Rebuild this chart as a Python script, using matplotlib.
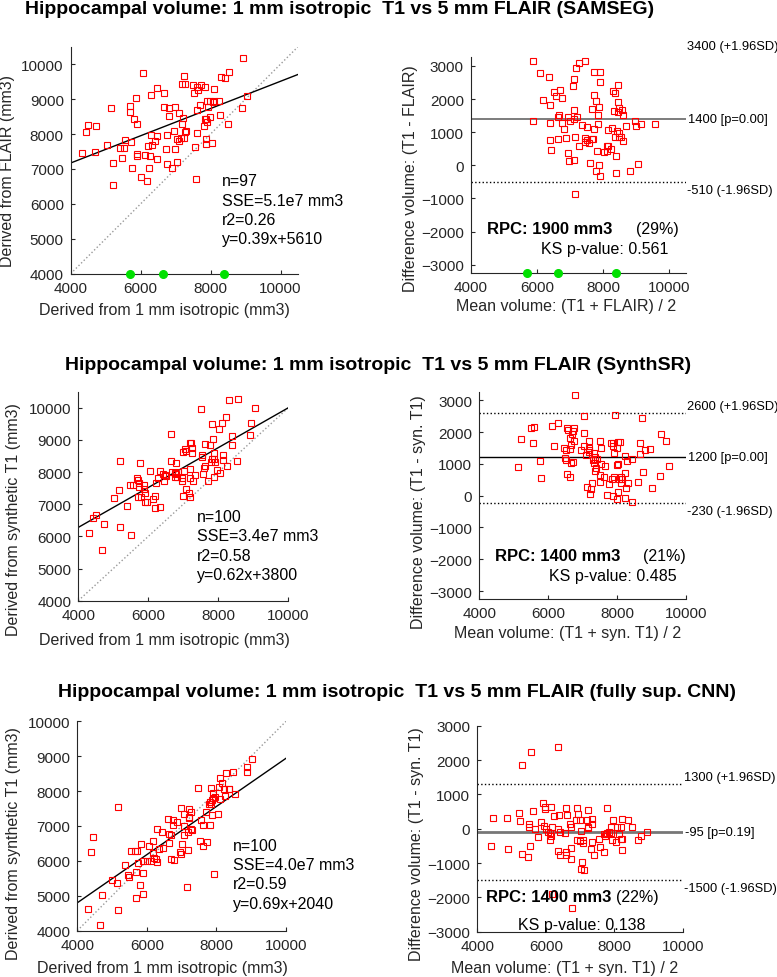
import numpy as np
import matplotlib.pyplot as plt
import matplotlib.transforms as mtransforms

plt.rcParams['font.family'] = ['Liberation Sans', 'DejaVu Sans']

W, H = 777, 978

# --- data (volumes in mm3) ---
# row 1: SAMSEG, x = 1 mm isotropic T1, y = 5 mm FLAIR
sam_t1 = [8930, 6080, 8530, 8290, 8400, 7240, 7180, 7260, 7500, 7730, 7620, 7830, 6480, 6310,
          6660, 5870, 7520, 7640, 8100, 9050, 5160, 5710, 5700, 6660, 6800, 6990, 7090, 6810,
          7220, 7710, 7620, 7930, 7900, 7980, 8110, 8230, 8060, 8900, 5820, 5900, 7180, 7830,
          7860, 7990, 7900, 7810, 8260, 8510, 4500, 4730, 4430, 6290, 6470, 6740, 6950, 7300,
          7260, 7600, 7050, 7100, 7230, 7140, 5560, 5730, 6420, 7860, 7870, 8050, 5030, 5410,
          5520, 6200, 6330, 6720, 6990, 7560, 4310, 4690, 5900, 5910, 6130, 6270, 6460, 5480,
          5200, 6760, 7040, 6900, 5760, 6240, 6000, 6190, 7570, 5200]
sam_flair = [10170, 9750, 9780, 9620, 9600, 9670, 9430, 9430, 9410, 9410, 9360, 9360, 9310, 9130,
             9160, 9030, 9160, 9250, 9290, 9080, 8740, 8810, 8640, 8780, 8740, 8760, 8610, 8510,
             8460, 8840, 8690, 8770, 8940, 8950, 8950, 8950, 8920, 8740, 8420, 8280, 8280, 8420,
             8440, 8490, 8330, 8220, 8530, 8280, 8260, 8240, 8060, 7970, 7940, 7960, 8100, 8080,
             8060, 8020, 7870, 7810, 7890, 7900, 7820, 7760, 7810, 7860, 7710, 7740, 7690, 7610,
             7610, 7660, 7680, 7580, 7560, 7640, 7450, 7480, 7420, 7360, 7410, 7360, 7290, 7300,
             7170, 7140, 7190, 7030, 7040, 7030, 6760, 6650, 6710, 6550]
sam_marks = [5700, 6640, 8390]

# row 2: SynthSR, x = 1 mm isotropic T1, y = synthetic T1
ssr_t1 = [8550, 8300, 9040, 7500, 8230, 8100, 7830, 8930, 8010, 6660, 8390, 8910, 7860, 8400,
          7230, 7190, 7250, 7620, 7750, 7040, 7000, 7090, 7240, 7540, 7530, 7870, 8130, 7810,
          7890, 7910, 7790, 8130, 8530, 8260, 7620, 7600, 5190, 5770, 6650, 6790, 6060, 6330,
          6430, 6480, 6500, 6670, 6750, 6860, 7030, 6820, 6750, 6950, 7180, 7320, 7290, 7570,
          7710, 7880, 7970, 8060, 6270, 6230, 5690, 5710, 5740, 5470, 5550, 5870, 5880, 5720,
          5160, 5020, 5900, 5710, 5800, 5900, 5960, 6190, 6140, 6190, 6330, 7080, 7000, 7150,
          7200, 5390, 4510, 4420, 4740, 4320, 5200, 5510, 4670, 7180, 6790, 6440, 6970]
ssr_syn = [10270, 10230, 9980, 9950, 9700, 9520, 9490, 9540, 9330, 9190, 9130, 9140, 9020, 8840,
           8910, 8890, 8750, 8860, 8830, 8710, 8640, 8650, 8590, 8520, 8480, 8580, 8530, 8400,
           8420, 8310, 8310, 8380, 8330, 8190, 8200, 8130, 8350, 8280, 8360, 8280, 8040, 8040,
           7930, 7910, 7880, 8000, 7980, 8000, 8040, 7860, 7860, 7810, 7820, 7900, 7730, 7940,
           7720, 7860, 8070, 7960, 7830, 7670, 7820, 7740, 7670, 7600, 7600, 7600, 7470, 7530,
           7430, 7200, 7360, 7210, 7220, 7080, 7080, 7260, 7170, 6880, 6910, 7470, 7260, 7360,
           7240, 6940, 6670, 6560, 6390, 6110, 6300, 6050, 5580, 8110, 7930, 7730, 7730]

# row 3: fully supervised CNN, x = 1 mm isotropic T1, y = synthetic T1
cnn_t1 = [9010, 8890, 8870, 8490, 8270, 8090, 8170, 8070, 8210, 8350, 8370, 8530, 8240, 8100,
          7970, 7910, 7860, 7820, 7850, 7780, 7700, 7860, 8040, 7830, 7470, 7550, 7610, 7810,
          6970, 7200, 7210, 7220, 7270, 7080, 6610, 6740, 6860, 6760, 7060, 7260, 7300, 7180,
          7060, 6630, 6300, 6430, 6700, 6170, 6060, 5840, 5660, 5540, 5710, 6360, 6460, 6640,
          7020, 7180, 6940, 6980, 7540, 7600, 7730, 6170, 6200, 6250, 6290, 6110, 6000, 5900,
          5750, 5380, 6690, 6790, 5490, 5450, 5680, 5890, 4990, 5140, 5790, 5890, 5690, 4710,
          5180, 4300, 4660, 4460, 4390, 5170, 7150, 7940, 7890]
cnn_syn = [8910, 8680, 8540, 8540, 8530, 8380, 8220, 8110, 8060, 8060, 8060, 7920, 7850, 7760,
           7840, 7810, 7740, 7680, 7630, 7620, 7410, 7320, 7350, 8080, 8080, 7160, 7030, 7030,
           7520, 7490, 7260, 7240, 7410, 7340, 7200, 7170, 7120, 7020, 7000, 6920, 6890, 6820,
           6740, 6760, 6910, 6820, 6750, 6580, 6420, 6470, 6280, 6280, 6270, 6350, 6370, 6510,
           6470, 6310, 6260, 6200, 6580, 6440, 6530, 6220, 6070, 6050, 5960, 6010, 5990, 5990,
           5950, 5890, 6050, 6020, 5540, 5590, 5670, 5650, 5460, 5370, 5300, 5060, 4950, 5020,
           4590, 4620, 4150, 6680, 6250, 7550, 5240, 5620, 7950]

titles = ['Hippocampal volume: 1 mm isotropic  T1 vs 5 mm FLAIR (SAMSEG)',
          'Hippocampal volume: 1 mm isotropic  T1 vs 5 mm FLAIR (SynthSR)',
          'Hippocampal volume: 1 mm isotropic  T1 vs 5 mm FLAIR (fully sup. CNN)']
fit_slope = [0.39, 0.62, 0.69]
fit_icpt = [5610, 3800, 2040]
stats_text = [['n=97', 'SSE=5.1e7 mm3', 'r2=0.26', 'y=0.39x+5610'],
              ['n=100', 'SSE=3.4e7 mm3', 'r2=0.58', 'y=0.62x+3800'],
              ['n=100', 'SSE=4.0e7 mm3', 'r2=0.59', 'y=0.69x+2040']]
mean_diff = [1400, 1200, -95]
loa_hi = [3400, 2600, 1300]
loa_lo = [-510, -230, -1500]
mean_lbl = ['1400 [p=0.00]', '1200 [p=0.00]', '-95 [p=0.19]']
hi_lbl = ['3400 (+1.96SD)', '2600 (+1.96SD)', '1300 (+1.96SD)']
lo_lbl = ['-510 (-1.96SD)', '-230 (-1.96SD)', '-1500 (-1.96SD)']
rpc_lbl = ['RPC: 1900 mm3', 'RPC: 1400 mm3', 'RPC: 1400 mm3']
pct_lbl = ['(29%)', '(21%)', '(22%)']
ks_lbl = ['KS p-value: 0.561', 'KS p-value: 0.485', 'KS p-value: 0.138']
sc_ylabels = ['Derived from FLAIR (mm3)', 'Derived from synthetic T1 (mm3)',
              'Derived from synthetic T1 (mm3)']
ba_xlabels = ['Mean volume: (T1 + FLAIR) / 2', 'Mean volume: (T1 + syn. T1) / 2',
              'Mean volume: (T1 + syn. T1) / 2']
ba_ylabels = ['Difference volume: (T1 - FLAIR)', 'Difference volume: (T1 - syn. T1)',
              'Difference volume: (T1 - syn. T1)']

rows = [(sam_t1, sam_flair, sam_marks), (ssr_t1, ssr_syn, None), (cnn_t1, cnn_syn, None)]

# --- layout (pixels) ---
title_pos = [(340, 14), (378, 370), (397, 697.5)]
sc_box = [(70.7, 47.7, 298, 274.7), (78.3, 392.7, 288.3, 601.7), (77.3, 722.3, 286, 931.7)]
ba_box = [(470.7, 58.3, 686, 274.3), (479.3, 393.3, 686, 600), (477.3, 726.7, 682.7, 932.7)]
sc_lim = [(4000, 10500, 4000, 10500), (4000, 10000, 4000, 10500), (4000, 10000, 4000, 10000)]
ba_lim = [(4000, 10500, -3260, 3260), (4000, 10000, -3250, 3250), (4000, 10000, -3000, 3000)]
sc_xlab = [(164.5, 310), (164.5, 640), (162.5, 968.3)]
sc_ylab = [(7.3, 170.8), (13.3, 519.2), (13.3, 844)]
ba_xlab = [(565.8, 307), (567.8, 633.3), (564.7, 968.3)]
ba_ylab = [(410, 178.3), (418.3, 511.7), (416.7, 844)]
stats_pos = [(0.664, 0.41), (0.565, 0.404), (0.747, 0.409)]
rpc_pos = [(0.077, 0.208), (0.076, 0.209), (0.042, 0.172)]
pct_pos = [(0.768, 0.208), (0.793, 0.209), (0.675, 0.172)]
ks_pos = [(0.918, 0.116), (0.955, 0.113), (0.82, 0.037)]
mean_style = [dict(color='#666666', lw=1.2), dict(color='black', lw=1.0),
              dict(color='#777777', lw=2.0)]

TXT = '#262626'

fig = plt.figure(figsize=(W / 100, H / 100), dpi=100)


def px_box(l, t, r, b):
    return [l / W, 1 - b / H, (r - l) / W, (b - t) / H]


def ftext(x, y, s, **kw):
    fig.text(x / W, 1 - y / H, s, **kw)


def style(ax):
    for s in ['top', 'right']:
        ax.spines[s].set_visible(False)
    for s in ['left', 'bottom']:
        ax.spines[s].set_color(TXT)
        ax.spines[s].set_linewidth(0.8)
    ax.tick_params(direction='in', length=3, width=0.8, labelsize=11,
                   colors=TXT, pad=5)
    ax.set_xticks([4000, 6000, 8000, 10000])


for i, (x, y, marks) in enumerate(rows):
    x = np.array(x, float)
    y = np.array(y, float)

    ftext(*title_pos[i], titles[i], fontsize=14, fontweight='bold',
          ha='center', va='baseline')

    # scatter panel
    ax = fig.add_axes(px_box(*sc_box[i]))
    style(ax)
    x0, x1, y0, y1 = sc_lim[i]
    ax.set_xlim(x0, x1)
    ax.set_ylim(y0, y1)
    ax.set_yticks(np.arange(4000, 10001, 1000))
    ax.plot([x0, x1], [x0, x1], ':', color='#999999', lw=1)
    xs = np.array([x0, x1])
    ax.plot(xs, fit_slope[i] * xs + fit_icpt[i], color='black', lw=1)
    ax.plot(x, y, 's', ms=4, mfc='none', mec='red', mew=0.8)
    if marks is not None:
        ax.plot(marks, [y0] * len(marks), 'o', ms=5.5, color='#00e000',
                clip_on=False, zorder=5)
    sx, sy = stats_pos[i]
    for k, line in enumerate(stats_text[i]):
        ax.annotate(line, xy=(sx, sy), xycoords='axes fraction',
                    xytext=(0, -14 * k), textcoords='offset points',
                    fontsize=11.5, va='center', ha='left')
    ftext(*sc_xlab[i], 'Derived from 1 mm isotropic (mm3)', fontsize=11.5,
          color=TXT, ha='center', va='center')
    ftext(*sc_ylab[i], sc_ylabels[i], fontsize=11.5, color=TXT,
          ha='center', va='center', rotation=90)

    # Bland-Altman panel
    bx = fig.add_axes(px_box(*ba_box[i]))
    style(bx)
    bx0, bx1, by0, by1 = ba_lim[i]
    bx.set_xlim(bx0, bx1)
    bx.set_ylim(by0, by1)
    bx.set_yticks(np.arange(-3000, 3001, 1000))
    avg = (x + y) / 2
    diff = y - x
    bx.axhline(mean_diff[i], **mean_style[i])
    bx.axhline(loa_hi[i], ls=':', color='black', lw=1)
    bx.axhline(loa_lo[i], ls=':', color='black', lw=1)
    bx.plot(avg, diff, 's', ms=4, mfc='none', mec='red', mew=0.8)
    if marks is not None:
        bx.plot(marks, [by0] * len(marks), 'o', ms=5.5, color='#00e000',
                clip_on=False, zorder=5)
    tr = mtransforms.blended_transform_factory(bx.transAxes, bx.transData)
    bx.annotate(mean_lbl[i], xy=(1, mean_diff[i]), xycoords=tr, xytext=(1.5, 0),
                textcoords='offset points', fontsize=9.3, va='center',
                annotation_clip=False)
    bx.annotate(hi_lbl[i], xy=(1, loa_hi[i]), xycoords=tr, xytext=(1, 0.5),
                textcoords='offset points', fontsize=9.3, va='bottom',
                annotation_clip=False)
    bx.annotate(lo_lbl[i], xy=(1, loa_lo[i]), xycoords=tr, xytext=(1, -1.5),
                textcoords='offset points', fontsize=9.3, va='top',
                annotation_clip=False)
    bx.text(*rpc_pos[i], rpc_lbl[i], transform=bx.transAxes, fontsize=12,
            fontweight='bold', va='center', ha='left')
    bx.text(*pct_pos[i], pct_lbl[i], transform=bx.transAxes, fontsize=11.5,
            va='center', ha='left')
    bx.text(*ks_pos[i], ks_lbl[i], transform=bx.transAxes, fontsize=11.5,
            va='center', ha='right')
    ftext(*ba_xlab[i], ba_xlabels[i], fontsize=11.5, color=TXT,
          ha='center', va='center')
    ftext(*ba_ylab[i], ba_ylabels[i], fontsize=11.5, color=TXT,
          ha='center', va='center', rotation=90)

fig.savefig('out.png', dpi=100)
